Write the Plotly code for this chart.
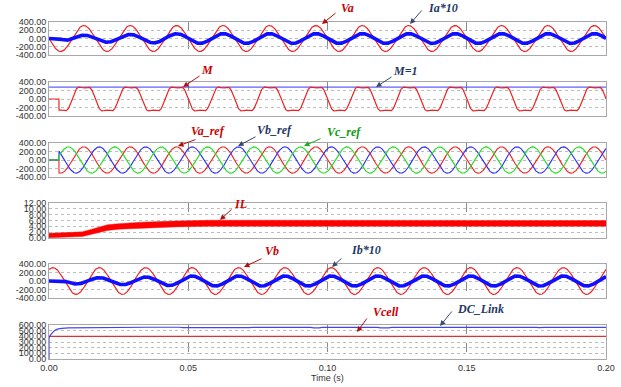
import numpy as np
import plotly.graph_objects as go

# ---------------- data ----------------
T_END = 0.2
F_GRID = 60.0                  # Hz
T_START_CTRL = 0.0036          # controller start (s)

VA_AMP = 315.0                 # Va, Vb amplitude
VREF_AMP = 310.0               # Va_ref, Vb_ref, Vc_ref amplitude
M_AMP = 322.0                  # modulating signal M
M_THIRD = 0.2                  # third-harmonic share in M
M1_LEVEL = 280.0               # M=1 level

IA_ENV_T = [0.0, 0.0036, 0.007, 0.02, 0.035, 0.05, 0.2]
IA_ENV = [0.0, 0.0, 75.0, 90.0, 105.0, 120.0, 120.0]
IB_ENV_T = [0.0, 0.0036, 0.007, 0.02, 0.035, 0.05, 0.2]
IB_ENV = [0.0, 0.0, 70.0, 80.0, 95.0, 120.0, 120.0]

IL_T = [0.0, 0.006, 0.012, 0.015, 0.018, 0.021, 0.025, 0.033, 0.045, 0.057, 0.08, 0.2]
IL_LOW = [0.1, 0.3, 0.5, 1.2, 2.0, 2.6, 3.0, 3.4, 3.8, 4.0, 4.0, 4.0]
IL_HIGH = [1.6, 1.8, 2.1, 2.9, 3.8, 4.5, 4.9, 5.4, 5.8, 6.1, 6.1, 6.0]

DC_T = [0.0, 0.0, 0.0005, 0.0012, 0.002, 0.003, 0.0045, 0.007, 0.012, 0.034, 0.035, 0.047, 0.048,
        0.072, 0.073, 0.094, 0.095, 0.097, 0.098, 0.118, 0.119, 0.122, 0.123, 0.175, 0.176,
        0.178, 0.183, 0.184, 0.19, 0.191, 0.2]
DC_V = [0.0, 370.0, 420.0, 470.0, 505.0, 528.0, 542.0, 550.0, 553.0, 553.0, 560.0, 560.0, 553.0,
        553.0, 558.0, 558.0, 548.0, 548.0, 558.0, 558.0, 548.0, 548.0, 558.0, 558.0, 552.0,
        558.0, 558.0, 545.0, 545.0, 558.0, 558.0]
VCELL_T = [0.0, 0.2]
VCELL_V = [400.0, 400.0]

X_TICKS = [0.0, 0.05, 0.10, 0.15, 0.20]
X_TICK_TEXT = ["0.00", "0.05", "0.10", "0.15", "0.20"]
Y_TICKS = [
    [400, 200, 0, -200, -400],
    [400, 200, 0, -200, -400],
    [400, 200, 0, -200, -400],
    [12, 10, 8, 6, 4, 2, 0],
    [400, 200, 0, -200, -400],
    [600, 500, 400, 300, 200, 100, 0],
]
Y_RANGES = [[-400, 400], [-400, 400], [-400, 400], [0, 12], [-400, 400], [0, 600]]

# ---------------- waveforms ----------------
t = np.linspace(0.0, T_END, 6001)
th = 2 * np.pi * F_GRID * t
on = (t >= T_START_CTRL).astype(float)

va = -VA_AMP * np.sin(th)
vb = -VA_AMP * np.sin(th - 2 * np.pi / 3)
ia10 = np.interp(t, IA_ENV_T, IA_ENV) * (-np.sin(th))
ib10 = np.interp(t, IB_ENV_T, IB_ENV) * (-np.sin(th - 2 * np.pi / 3))
m_sig = on * (-M_AMP * (np.sin(th) + M_THIRD * np.sin(3 * th)))
va_ref = on * (-VREF_AMP * np.sin(th))
vb_ref = on * (-VREF_AMP * np.sin(th - 2 * np.pi / 3))
vc_ref = on * (-VREF_AMP * np.sin(th + 2 * np.pi / 3))

# ---------------- layout geometry (page pixels) ----------------
W, H = 621, 387
X0, X1 = 49, 606
PANELS = [(22, 55), (82, 116), (143, 177), (203, 238), (264, 298), (325, 359)]


def fx(p):
    return p / W


def fy(p):
    return 1 - p / H


RED = "#ee2222"
BLUE = "#1010ff"
GREEN = "#22dd22"
FRAME = "#a8a8a8"
GRID = "#bdbdbd"

fig = go.Figure()


def ax_name(i, kind):
    return kind if i == 0 else f"{kind}{i + 1}"


def ref(i, kind):
    return kind[0] if i == 0 else f"{kind[0]}{i + 1}"


def add(i, x, y, color, width):
    fig.add_trace(go.Scatter(x=x, y=y, mode="lines", line=dict(color=color, width=width),
                             xaxis=ref(i, "x"), yaxis=ref(i, "y"), showlegend=False,
                             hoverinfo="skip"))


# panel 1
add(0, t, va, RED, 1.2)
add(0, t, ia10, BLUE, 3.6)
# panel 2
add(1, [0.0, T_END], [M1_LEVEL, M1_LEVEL], "#3a3aff", 1.0)
add(1, t, m_sig, RED, 1.2)
# panel 3
add(2, t, va_ref, RED, 1.1)
add(2, t, vb_ref, "#2a2aff", 1.1)
add(2, t, vc_ref, GREEN, 1.1)
# panel 4 (IL band)
fig.add_trace(go.Scatter(x=IL_T, y=IL_LOW, mode="lines", line=dict(color=RED, width=0.5),
                         xaxis="x4", yaxis="y4", showlegend=False, hoverinfo="skip"))
fig.add_trace(go.Scatter(x=IL_T, y=IL_HIGH, mode="lines", line=dict(color=RED, width=0.5),
                         fill="tonexty", fillcolor="#ff0000",
                         xaxis="x4", yaxis="y4", showlegend=False, hoverinfo="skip"))
# panel 5
add(4, t, vb, RED, 1.2)
add(4, t, ib10, BLUE, 3.6)
# panel 6
add(5, VCELL_T, VCELL_V, "#dd3333", 1.1)
add(5, DC_T, DC_V, "#4444ee", 1.2)

layout = dict(width=W, height=H, margin=dict(l=0, r=0, t=0, b=0, pad=0, autoexpand=False),
              paper_bgcolor="white", plot_bgcolor="white", showlegend=False,
              font=dict(family="Liberation Sans", size=9, color="#333333"))

for i, (top, bot) in enumerate(PANELS):
    last = i == len(PANELS) - 1
    layout[ax_name(i, "xaxis")] = dict(
        domain=[fx(X0), fx(X1)], range=[0, T_END], anchor=ref(i, "y"),
        showline=True, mirror=True, linecolor=FRAME, linewidth=1, automargin=False,
        tickvals=X_TICKS, ticktext=X_TICK_TEXT, showticklabels=last,
        showgrid=True, gridcolor="#8a8a8a", griddash="dash", gridwidth=1,
        zeroline=False, ticks="", tickfont=dict(size=9, color="#333333"),
    )
    yt = Y_TICKS[i]
    layout[ax_name(i, "yaxis")] = dict(
        domain=[fy(bot), fy(top)], range=Y_RANGES[i], anchor=ref(i, "x"),
        showline=True, mirror=True, linecolor=FRAME, linewidth=1, automargin=False,
        tickvals=yt, ticktext=[f"{v:.2f}" for v in yt],
        showgrid=True, gridcolor=GRID, griddash="dot", gridwidth=1,
        zeroline=False, ticks="", tickfont=dict(size=9, color="#333333"),
    )

fig.update_layout(**layout)

# ---------------- labels and arrows ----------------
LABELS = [
    # text, text centre (px), tail (px), head (px), text colour, arrow colour
    ("Va", (347, 8), (337, 12), (322, 24), "#cc0000", "#b01010"),
    ("Ia*10", (443, 8), (423, 9), (410, 24), "#1f3864", "#3a4a6a"),
    ("M", (207, 70), (201, 75), (183, 87), "#cc0000", "#b01010"),
    ("M=1", (405, 71), (393, 76), (376, 87), "#1f3864", "#3a4a6a"),
    ("Va_ref", (208, 131), (197, 139), (178, 146), "#cc0000", "#b01010"),
    ("Vb_ref", (274, 130), (257, 136), (238, 146), "#1f3864", "#3a4a6a"),
    ("Vc_ref", (344, 132), (322, 138), (304, 146), "#119911", "#22aa22"),
    ("IL", (240, 204), (233, 208), (220, 220), "#cc0000", "#b01010"),
    ("Vb", (272, 251), (263, 258), (244, 267), "#cc0000", "#b01010"),
    ("Ib*10", (366, 250), (343, 257), (332, 267), "#1f3864", "#3a4a6a"),
    ("Vcell", (386, 312), (368, 317), (357, 332), "#cc0000", "#b01010"),
    ("DC_Link", (480, 309), (453, 310), (440, 326), "#1f3864", "#3a4a6a"),
]

for text, (tx, ty), (axp, ayp), (hx, hy), tcol, acol in LABELS:
    fig.add_annotation(x=fx(hx), y=fy(hy), xref="paper", yref="paper",
                       ax=axp - hx, ay=ayp - hy, text="", showarrow=True,
                       arrowhead=2, arrowsize=1.1, arrowwidth=1, arrowcolor=acol)
    fig.add_annotation(x=fx(tx), y=fy(ty), xref="paper", yref="paper",
                       text=text, showarrow=False, xanchor="center", yanchor="middle",
                       font=dict(family="Liberation Serif", size=12, color=tcol,
                                 style="italic", weight="bold"))

fig.add_annotation(x=fx(327), y=fy(378), xref="paper", yref="paper",
                   text="Time (s)", showarrow=False, xanchor="center", yanchor="middle",
                   font=dict(family="Liberation Sans", size=9, color="#333333"))

# remove the default page margin so the figure sits at the window's top-left corner
fig.write_html("out.html", config={"displayModeBar": False},
               post_script="document.body.style.margin='0';document.body.style.overflow='hidden';")
